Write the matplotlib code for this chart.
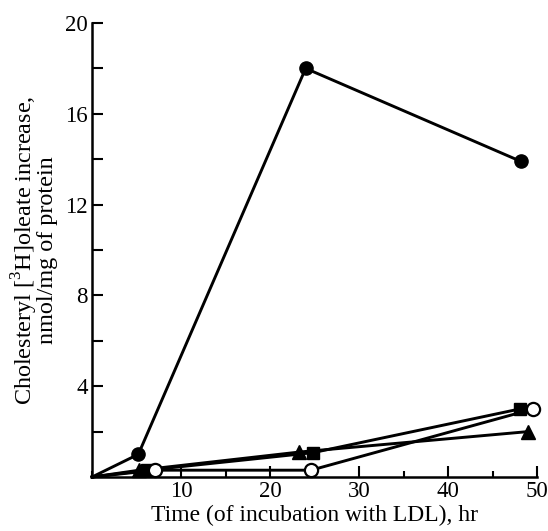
import numpy as np
import matplotlib.pyplot as plt
from matplotlib.ticker import MultipleLocator

plt.rcParams['font.family'] = ['Liberation Serif', 'DejaVu Serif']
plt.rcParams['mathtext.fontset'] = 'custom'
plt.rcParams['mathtext.rm'] = 'Liberation Serif'

# time points (hr) and cholesteryl oleate increase for each series
t_filled_circle = [0, 5.2, 24.0, 48.2]
y_filled_circle = [0, 1.0, 18.0, 13.9]

t_triangle = [0, 5.3, 23.3, 49.0]
y_triangle = [0, 0.3, 1.1, 2.0]

t_square = [0, 6.2, 24.8, 48.1]
y_square = [0, 0.3, 1.07, 3.0]

t_open_circle = [0, 7.1, 24.6, 49.6]
y_open_circle = [0, 0.3, 0.3, 3.0]

fig = plt.figure(figsize=(5.48, 5.31), dpi=100)
ax = fig.add_axes([0.168, 0.1017, 0.812, 0.855])

lw = 2.1
ms = 9.5
ax.plot(t_filled_circle, y_filled_circle, color='black', lw=lw, marker='o',
        ms=ms, markevery=[1, 2, 3], clip_on=False, zorder=3)
ax.plot(t_triangle, y_triangle, color='black', lw=lw, marker='^',
        ms=ms, markevery=[1, 2, 3], clip_on=False, zorder=3)
ax.plot(t_square, y_square, color='black', lw=lw, marker='s',
        ms=ms - 0.5, markevery=[1, 2, 3], clip_on=False, zorder=3)
ax.plot(t_open_circle, y_open_circle, color='black', lw=lw, marker='o',
        ms=ms, mfc='white', mec='black', mew=1.6, markevery=[1, 2, 3],
        clip_on=False, zorder=4)

ax.set_xlim(0, 50)
ax.set_ylim(0, 20)
ax.set_xticks([10, 20, 30, 40, 50])
ax.set_yticks([4, 8, 12, 16, 20])
ax.xaxis.set_minor_locator(MultipleLocator(5))
ax.yaxis.set_minor_locator(MultipleLocator(2))

for s in ['top', 'right']:
    ax.spines[s].set_visible(False)
for s in ['left', 'bottom']:
    ax.spines[s].set_linewidth(1.8)

ax.tick_params(axis='both', which='both', direction='in', width=1.5,
               labelsize=16.5, pad=3)
ax.tick_params(axis='x', which='major', length=8)
ax.tick_params(axis='x', which='minor', length=4)
ax.tick_params(axis='y', which='both', length=8)

ax.set_xlabel('Time (of incubation with LDL), hr', fontsize=17, labelpad=2)
ax.set_ylabel('Cholesteryl [$^{3}$H]oleate increase,\nnmol/mg of protein',
              fontsize=17.4, labelpad=5, linespacing=0.85)

fig.savefig('out.png', dpi=100)
